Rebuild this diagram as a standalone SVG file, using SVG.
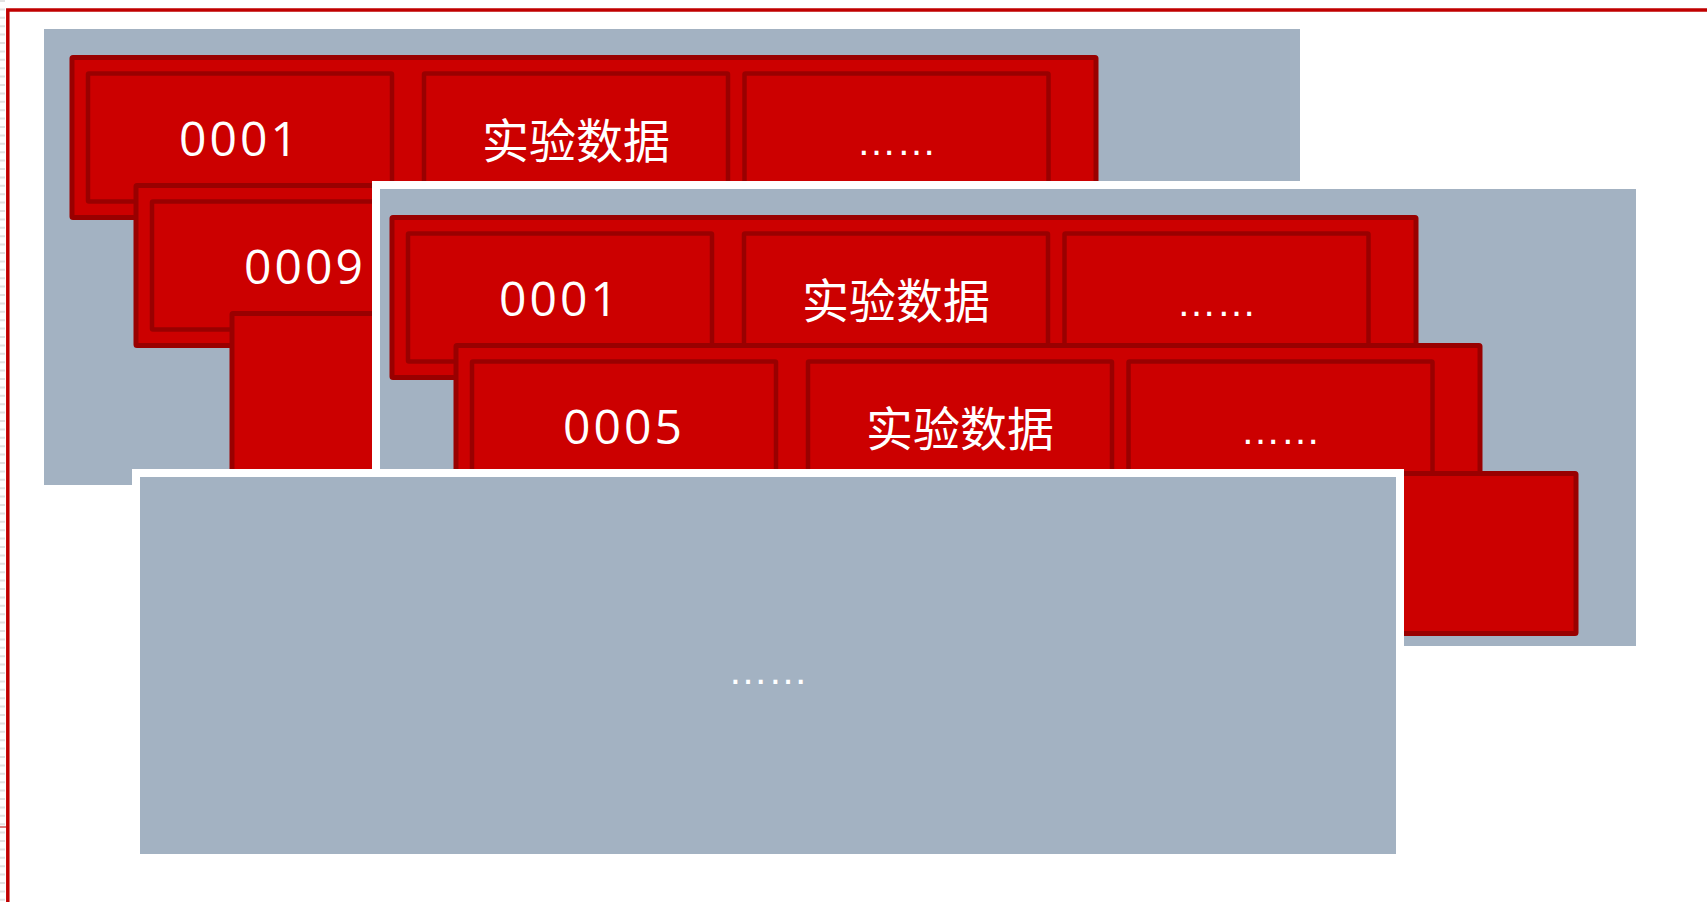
<svg xmlns="http://www.w3.org/2000/svg" xmlns:xlink="http://www.w3.org/1999/xlink" width="1707" height="902" viewBox="0 0 1707 902">
  <style>
    .panel{fill:#a3b2c2;stroke:#ffffff;stroke-width:8}
    .row{fill:#cc0000;stroke:#990000;stroke-width:5}
    .cell{fill:#cc0000;stroke:#990000;stroke-width:4.5}
    .num{font-family:"Open Sans","Noto Sans",sans-serif;font-size:48px;letter-spacing:3px;fill:#ffffff;text-anchor:middle}
    .cn{font-family:"Noto Sans CJK SC","Noto Sans CJK JP",sans-serif;font-size:47px;fill:#ffffff;text-anchor:middle}
    .dots{font-family:"Liberation Sans",sans-serif;font-size:40px;fill:#ffffff;text-anchor:middle}
    .frame{fill:none;stroke:#c00000;stroke-width:3.5}
  </style>
  <defs>
    <g id="rowShape">
      <rect class="row" x="0" y="0" width="1024" height="160" rx="1"/>
      <rect class="cell" x="16" y="16" width="304" height="128" rx="1"/>
      <rect class="cell" x="352" y="16" width="304" height="128" rx="1"/>
      <rect class="cell" x="672.5" y="16" width="304" height="128" rx="1"/>
    </g>
    <rect id="rowPlain" class="row" x="0" y="0" width="1024" height="160" rx="1"/>
  </defs>
  <rect x="0" y="0" width="1707" height="902" fill="#ffffff"/>
  <line x1="2.5" y1="0" x2="2.5" y2="902" stroke="#e2e2e2" stroke-width="5" stroke-dasharray="2 6.4"/>
  <line x1="0" y1="827" x2="6" y2="827" stroke="#c00000" stroke-width="1"/>
  <rect id="frame" class="frame" x="7.8" y="10" width="1760" height="960"/>

  <g id="panel-a">
    <rect class="panel" x="40" y="25" width="1264" height="464"/>
    <g id="row-a1">
      <use xlink:href="#rowShape" href="#rowShape" x="72" y="57.5"/>
      <text class="num" x="240" y="156.3">0001</text>
      <text class="cn" x="576" y="158.3">实验数据</text>
      <text class="dots" x="896.5" y="155">……</text>
    </g>
    <g id="row-a2">
      <use xlink:href="#rowShape" href="#rowShape" x="136" y="185.5"/>
      <text class="num" x="305" y="284.3">0009</text>
    </g>
    <g id="row-a3">
      <use xlink:href="#rowPlain" href="#rowPlain" x="232" y="313.5"/>
    </g>
  </g>

  <g id="panel-b">
    <rect class="panel" x="376" y="185" width="1264" height="465"/>
    <g id="row-b1">
      <use xlink:href="#rowShape" href="#rowShape" x="392" y="217.5"/>
      <text class="num" x="560" y="316.3">0001</text>
      <text class="cn" x="896" y="318.3">实验数据</text>
      <text class="dots" x="1216.5" y="316.4">……</text>
    </g>
    <g id="row-b2">
      <use xlink:href="#rowShape" href="#rowShape" x="456" y="345.5"/>
      <text class="num" x="624" y="444.3">0005</text>
      <text class="cn" x="960" y="446.3">实验数据</text>
      <text class="dots" x="1280.5" y="444.4">……</text>
    </g>
    <g id="row-b3">
      <use xlink:href="#rowPlain" href="#rowPlain" x="552" y="473.5"/>
    </g>
  </g>

  <g id="panel-c">
    <rect class="panel" x="136" y="473" width="1264" height="385"/>
    <text class="dots" x="768" y="684.4">……</text>
  </g>

  <g id="connectors"/>
</svg>
